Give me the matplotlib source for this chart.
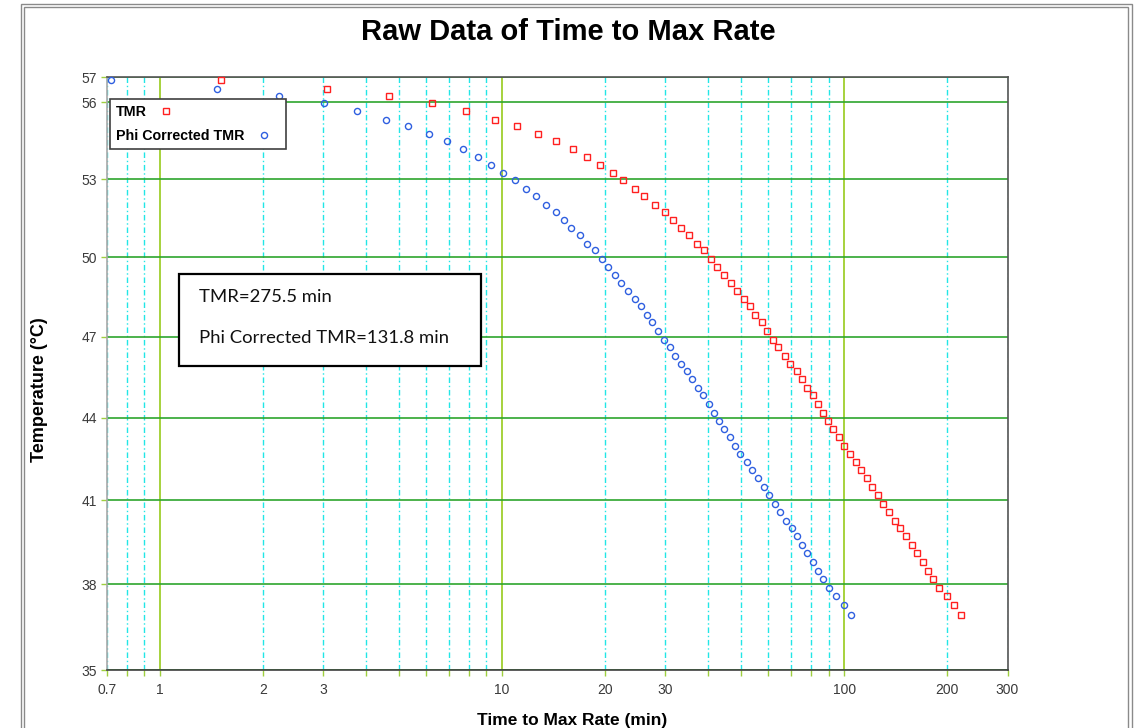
import numpy as np
import matplotlib
matplotlib.use("Agg")
import matplotlib.pyplot as plt
from matplotlib.ticker import FixedLocator, FuncFormatter
from matplotlib.patches import Rectangle
from matplotlib.lines import Line2D

# ---------------- data ----------------
temperature_c = [
    56.89, 56.53, 56.25, 55.96, 55.67, 55.32, 55.05, 54.77, 54.47, 54.15,
    53.85, 53.54, 53.23, 52.97,
    52.62, 52.35, 52.01, 51.74, 51.41, 51.12, 50.84, 50.51, 50.26, 49.93,
    49.64, 49.31, 49.02, 48.71, 48.42, 48.13, 47.82, 47.53, 47.21, 46.88,
    46.62, 46.29, 45.99, 45.72, 45.44, 45.10, 44.83, 44.52, 44.19, 43.87,
    43.60, 43.30, 42.98, 42.68, 42.40, 42.10, 41.80, 41.49, 41.18, 40.87,
    40.57, 40.27, 40.01, 39.71, 39.40, 39.10, 38.79, 38.48, 38.19, 37.88,
    37.59, 37.26, 36.93,
]

tmr_min = [
    1.504, 3.070, 4.660, 6.237, 7.856, 9.511, 11.07, 12.70, 14.34, 16.11,
    17.70, 19.32, 21.04, 22.60,
    24.45, 26.03, 27.97, 29.99, 31.64, 33.32, 35.24, 37.04, 38.97, 40.86,
    42.46, 44.60, 46.66, 48.47, 50.82, 52.91, 54.95, 57.37, 59.33, 62.02,
    64.15, 66.97, 69.50, 72.60, 75.08, 77.96, 80.84, 83.95, 86.82, 89.79,
    92.68, 96.50, 99.59, 104.11, 107.96, 111.9, 116.5, 120.5, 125.5, 129.5,
    135.1, 140.7, 145.8, 151.2, 158.2, 162.9, 170.1, 175.6, 181.3, 189.4,
    199.0, 208.9, 219.3,
]

phi_tmr_min = [
    0.719, 1.465, 2.227, 3.021, 3.765, 4.577, 5.316, 6.100, 6.886, 7.683,
    8.484, 9.278, 10.08, 10.92,
    11.77, 12.56, 13.44, 14.34, 15.19, 15.93, 16.89, 17.70, 18.64, 19.62,
    20.39, 21.37, 22.30, 23.28, 24.45, 25.46, 26.56, 27.42, 28.55, 29.67,
    30.94, 31.94, 33.32, 34.70, 35.94, 37.37, 38.57, 40.24, 41.53, 43.04,
    44.60, 46.24, 47.92, 49.66, 51.84, 53.62, 55.83, 58.13, 60.25, 62.60,
    64.74, 67.41, 70.20, 72.60, 75.39, 78.07, 81.18, 84.08, 86.78, 90.54,
    94.91, 99.93, 104.47,
]

series_labels = ["TMR", "Phi Corrected TMR"]
y_ticks = [35, 38, 41, 44, 47, 50, 53, 56, 57]
x_major = [1, 10, 100]
x_minor = [0.7, 0.8, 0.9, 2, 3, 4, 5, 6, 7, 8, 9, 20, 30, 40, 50, 60, 70, 80, 90, 200, 300]
x_labelled = [0.7, 1, 2, 3, 10, 20, 30, 100, 200, 300]
x_limits = (0.7, 300)
y_limits = (35, 57)
title_text = "Raw Data of Time to Max Rate"
x_title = "Time to Max Rate (min)"
y_title = "Temperature (\u00b0C)"
note_lines = ["TMR=275.5 min", "Phi Corrected TMR=131.8 min"]

# ---------------- figure ----------------
W, H = 1141, 728
fig = plt.figure(figsize=(W / 100, H / 100), dpi=100)
fig.patch.set_facecolor("white")

# outer double frame
for (x0, y0, x1, c) in [(21.0, 4.3, 1131.7, "#8a8a8a"), (23.6, 6.9, 1128.3, "#8a8a8a")]:
    fig.patches.append(Rectangle((x0 / W, -0.05), (x1 - x0) / W, 1 - y0 / H + 0.05,
                                 transform=fig.transFigure, fill=False,
                                 edgecolor=c, lw=1.0))

ax_l, ax_r, ax_t, ax_b = 107.0, 1007.5, 77.1, 670.3
ax = fig.add_axes([ax_l / W, 1 - ax_b / H, (ax_r - ax_l) / W, (ax_b - ax_t) / H])


def fwd(t):
    t = np.asarray(t, dtype=float)
    return -1.0 / (t + 273.15)


def inv(u):
    u = np.asarray(u, dtype=float)
    with np.errstate(divide="ignore"):
        return -1.0 / u - 273.15


ax.set_xscale("log")
ax.set_yscale("function", functions=(fwd, inv))
ax.set_xlim(*x_limits)
ax.set_ylim(*y_limits)

# ticks
ax.xaxis.set_major_locator(FixedLocator(x_major))
ax.xaxis.set_minor_locator(FixedLocator(x_minor))


def xfmt(v, pos=None):
    for lab in x_labelled:
        if abs(v - lab) < 1e-9 * max(1, lab):
            return ("%g" % lab)
    return ""


ax.xaxis.set_major_formatter(FuncFormatter(xfmt))
ax.xaxis.set_minor_formatter(FuncFormatter(xfmt))
ax.yaxis.set_major_locator(FixedLocator(y_ticks))
ax.yaxis.set_major_formatter(FuncFormatter(lambda v, p: "%g" % v))
ax.yaxis.set_minor_locator(FixedLocator([]))

tick_font = "Liberation Sans"
ax.tick_params(which="both", direction="out", length=4.3, width=1.0,
               color="#9fcf3f", labelsize=10, labelcolor="#3a3a3a")
ax.tick_params(axis="x", which="both", pad=5)
ax.tick_params(axis="y", which="both", pad=3)
for lab in ax.get_xticklabels(which="both") + ax.get_yticklabels():
    lab.set_fontfamily(tick_font)

# grid
ax.grid(which="major", axis="x", color="#a6d23c", lw=1.4, ls="-")
ax.grid(which="minor", axis="x", color="#22e6e6", lw=1.0, ls=(0, (4, 2, 1, 2)))
ax.grid(which="major", axis="y", color="#2ea52e", lw=1.2, ls="-")
ax.set_axisbelow(True)

# spines
ax.spines["left"].set_color("#a8a8a8")
ax.spines["bottom"].set_color("#404040")
ax.spines["top"].set_color("#555555")
ax.spines["right"].set_color("#555555")
for s in ax.spines.values():
    s.set_linewidth(1.2)

# data
red = "#ff2020"
blue = "#2f5fe0"
ax.plot(tmr_min, temperature_c, ls="none", marker="s", ms=4.8, mfc="none",
        mec=red, mew=1.0, clip_on=False, zorder=3, label=series_labels[0])
ax.plot(phi_tmr_min, temperature_c, ls="none", marker="o", ms=4.4, mfc="none",
        mec=blue, mew=1.0, clip_on=False, zorder=3, label=series_labels[1])

# legend (marker after text, texts left aligned)
handles = [Line2D([], [], ls="none", marker="s", ms=4.8, mfc="none", mec=red, mew=1.0),
           Line2D([], [], ls="none", marker="o", ms=4.4, mfc="none", mec=blue, mew=1.0)]
leg = ax.legend(handles, series_labels, loc="upper left",
                bbox_to_anchor=((109.7 - ax_l) / (ax_r - ax_l), (ax_b - 98.7) / (ax_b - ax_t)),
                borderaxespad=0, markerfirst=False, frameon=True, fancybox=False,
                handlelength=2.3, handletextpad=0.2, borderpad=0.42, labelspacing=0.72,
                prop={"family": tick_font, "weight": "bold", "size": 10.3})
try:
    for col in leg._legend_handle_box.get_children():
        col.align = "left"
except Exception:
    pass
leg.get_frame().set_edgecolor("#404040")
leg.get_frame().set_linewidth(1.2)
leg.get_frame().set_facecolor("white")
leg.get_frame().set_alpha(1)

# annotation box
bx0, bx1, by0, by1 = 179.3, 481.0, 274.0, 366.0
ax.add_patch(Rectangle(((bx0 - ax_l) / (ax_r - ax_l), (ax_b - by1) / (ax_b - ax_t)),
                       (bx1 - bx0) / (ax_r - ax_l), (by1 - by0) / (ax_b - ax_t),
                       transform=ax.transAxes, facecolor="white", edgecolor="black",
                       lw=1.6, zorder=4))
for line, ypx in zip(note_lines, [297.3, 338.3]):
    ax.text((199.3 - ax_l) / (ax_r - ax_l), (ax_b - ypx) / (ax_b - ax_t), line,
            transform=ax.transAxes, ha="left", va="center", fontsize=13.3,
            family="Lato", color="#111111", zorder=5)

# titles
fig.text(568 / W, 1 - 32 / H, title_text, ha="center", va="center",
         family=tick_font, weight="bold", fontsize=21, color="black")
ax.set_xlabel(x_title, family=tick_font, weight="bold", fontsize=12.5)
ax.xaxis.set_label_coords((572 - ax_l) / (ax_r - ax_l), (ax_b - 721) / (ax_b - ax_t))
ax.xaxis.label.set_va("center")
ax.set_ylabel(y_title, family=tick_font, weight="bold", fontsize=13)
ax.yaxis.set_label_coords((40 - ax_l) / (ax_r - ax_l), (ax_b - 390) / (ax_b - ax_t))
ax.yaxis.label.set_va("center")

fig.savefig("out.png", dpi=100, facecolor="white")
